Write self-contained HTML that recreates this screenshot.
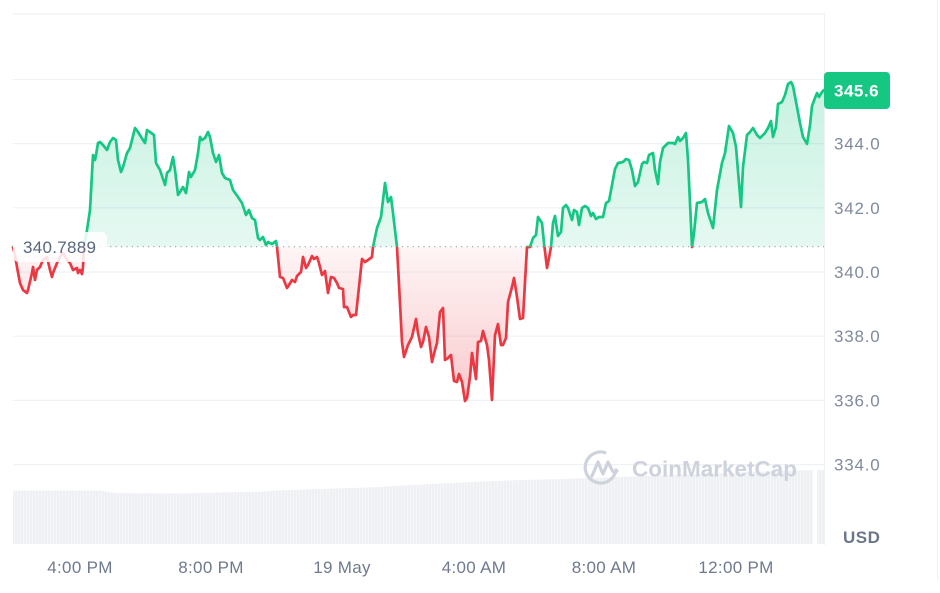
<!DOCTYPE html>
<html>
<head>
<meta charset="utf-8">
<style>
  html,body{margin:0;padding:0;background:#fff;}
  body{width:940px;height:593px;overflow:hidden;}
  svg{display:block;}
  text{font-family:"Liberation Sans",sans-serif;}
</style>
</head>
<body>
<svg width="940" height="593" viewBox="0 0 940 593" xmlns="http://www.w3.org/2000/svg">
  <defs>
    <clipPath id="above"><rect x="0" y="0" width="940" height="246.7"/></clipPath>
    <clipPath id="below"><rect x="0" y="246.7" width="940" height="350"/></clipPath>
    <linearGradient id="gfill" gradientUnits="userSpaceOnUse" x1="0" y1="80" x2="0" y2="247">
      <stop offset="0" stop-color="#16c784" stop-opacity="0.24"/>
      <stop offset="1" stop-color="#16c784" stop-opacity="0.11"/>
    </linearGradient>
    <linearGradient id="rfill" gradientUnits="userSpaceOnUse" x1="0" y1="247" x2="0" y2="400">
      <stop offset="0" stop-color="#ea3943" stop-opacity="0.05"/>
      <stop offset="1" stop-color="#ea3943" stop-opacity="0.27"/>
    </linearGradient>
    <pattern id="stripes" patternUnits="userSpaceOnUse" width="3" height="10">
      <rect x="0" y="0" width="3" height="10" fill="#eef0f4"/>
      <rect x="2" y="0" width="0.8" height="10" fill="#f7f8fa"/>
    </pattern>
    <path id="area" d="M13,246.7 L13,247 15,255 17,267 20,283 23,290 27,293 28,290 32,273 33,267 35,280 37,270 40,267 43,260 47,257 50,270 52,277 53,273 57,263 60,257 63,253 67,260 70,263 73,270 77,268 78,273 80,270 82,274 83,267 84,247 87,230 90,210 92,173 93,155 94,157 95,160 96,155 98,143 100,142 103,145 107,150 110,142 113,138 116,140 118,160 121,172 123,167 127,153 130,148 135,128 138,132 143,140 145,143 147,130 150,132 154,135 156,163 160,170 165,185 167,173 170,170 173,157 175,170 178,195 180,192 183,187 186,193 189,172 191,177 195,170 198,153 200,137 202,140 205,138 208,132 210,137 213,153 216,162 219,155 222,173 225,178 230,180 233,190 238,197 242,203 246,215 249,210 252,218 255,220 258,238 260,240 263,237 266,245 268,242 272,244 276,241 277,247 280,277 283,278 287,288 289,285 292,280 295,282 297,276 301,272 303,257 306,268 308,265 312,256 314,259 317,257 319,263 322,275 325,271 328,293 331,277 334,278 337,283 339,288 343,289 344,307 347,307 351,317 353,315 356,315 362,259 365,262 368,260 372,257 373,247 377,228 381,217 385,183 388,202 391,197 393,213 397,247 400,303 402,342 404,357 408,345 412,337 416,319 418,333 421,347 423,342 426,327 429,337 432,362 435,350 437,343 440,312 443,308 445,360 448,358 451,355 454,381 457,382 459,374 462,382 465,401 467,398 470,377 472,353 476,379 478,342 481,341 483,331 487,345 489,360 492,400 495,335 498,324 501,345 503,345 506,338 508,302 512,287 514,278 517,297 520,319 523,318 525,282 527,247 530,247 533,238 536,235 538,217 542,223 544,243 547,268 549,258 551,247 553,223 555,216 558,236 561,232 563,208 566,205 568,208 572,220 574,210 577,212 579,225 582,208 585,206 588,208 591,216 593,213 596,219 599,217 603,217 606,203 609,201 612,185 615,169 618,163 623,162 626,159 629,160 632,170 635,186 638,182 642,164 644,162 647,163 649,155 653,153 655,170 658,184 660,162 663,148 668,143 673,143 675,144 678,137 680,141 683,138 686,133 688,160 690,203 692,247 694,233 697,203 702,202 705,199 708,213 713,228 717,190 722,163 725,153 729,126 733,133 736,147 741,207 743,167 747,135 750,132 753,128 757,135 760,138 765,133 768,128 771,121 773,137 776,127 778,104 782,102 785,95 788,84 791,82 793,86 797,107 800,123 803,137 807,144 810,125 812,106 815,98 817,93 819,97 822,92 824,90 L824,246.7 Z"/>
    <polyline id="ln" points="13,247 15,255 17,267 20,283 23,290 27,293 28,290 32,273 33,267 35,280 37,270 40,267 43,260 47,257 50,270 52,277 53,273 57,263 60,257 63,253 67,260 70,263 73,270 77,268 78,273 80,270 82,274 83,267 84,247 87,230 90,210 92,173 93,155 94,157 95,160 96,155 98,143 100,142 103,145 107,150 110,142 113,138 116,140 118,160 121,172 123,167 127,153 130,148 135,128 138,132 143,140 145,143 147,130 150,132 154,135 156,163 160,170 165,185 167,173 170,170 173,157 175,170 178,195 180,192 183,187 186,193 189,172 191,177 195,170 198,153 200,137 202,140 205,138 208,132 210,137 213,153 216,162 219,155 222,173 225,178 230,180 233,190 238,197 242,203 246,215 249,210 252,218 255,220 258,238 260,240 263,237 266,245 268,242 272,244 276,241 277,247 280,277 283,278 287,288 289,285 292,280 295,282 297,276 301,272 303,257 306,268 308,265 312,256 314,259 317,257 319,263 322,275 325,271 328,293 331,277 334,278 337,283 339,288 343,289 344,307 347,307 351,317 353,315 356,315 362,259 365,262 368,260 372,257 373,247 377,228 381,217 385,183 388,202 391,197 393,213 397,247 400,303 402,342 404,357 408,345 412,337 416,319 418,333 421,347 423,342 426,327 429,337 432,362 435,350 437,343 440,312 443,308 445,360 448,358 451,355 454,381 457,382 459,374 462,382 465,401 467,398 470,377 472,353 476,379 478,342 481,341 483,331 487,345 489,360 492,400 495,335 498,324 501,345 503,345 506,338 508,302 512,287 514,278 517,297 520,319 523,318 525,282 527,247 530,247 533,238 536,235 538,217 542,223 544,243 547,268 549,258 551,247 553,223 555,216 558,236 561,232 563,208 566,205 568,208 572,220 574,210 577,212 579,225 582,208 585,206 588,208 591,216 593,213 596,219 599,217 603,217 606,203 609,201 612,185 615,169 618,163 623,162 626,159 629,160 632,170 635,186 638,182 642,164 644,162 647,163 649,155 653,153 655,170 658,184 660,162 663,148 668,143 673,143 675,144 678,137 680,141 683,138 686,133 688,160 690,203 692,247 694,233 697,203 702,202 705,199 708,213 713,228 717,190 722,163 725,153 729,126 733,133 736,147 741,207 743,167 747,135 750,132 753,128 757,135 760,138 765,133 768,128 771,121 773,137 776,127 778,104 782,102 785,95 788,84 791,82 793,86 797,107 800,123 803,137 807,144 810,125 812,106 815,98 817,93 819,97 822,92 824,90"/>
  </defs>

  <!-- gridlines -->
  <g stroke="#eff2f5" stroke-width="1.2">
    <line x1="13" y1="14" x2="824" y2="14"/>
    <line x1="13" y1="79.5" x2="824" y2="79.5"/>
    <line x1="13" y1="143.6" x2="824" y2="143.6"/>
    <line x1="13" y1="207.8" x2="824" y2="207.8"/>
    <line x1="13" y1="272" x2="824" y2="272"/>
    <line x1="13" y1="336.2" x2="824" y2="336.2"/>
    <line x1="13" y1="400.4" x2="824" y2="400.4"/>
    <line x1="13" y1="464.6" x2="824" y2="464.6"/>
  </g>
  <line x1="824.5" y1="13" x2="824.5" y2="545" stroke="#eff2f5" stroke-width="1.2"/>
  <line x1="937.5" y1="0" x2="937.5" y2="580" stroke="#eff2f5" stroke-width="1"/>

  <!-- volume -->
  <polygon fill="url(#stripes)" points="13,544 13,490.5 100,490.5 115,493 175,493.5 260,491.7 275,490.5 320,489 380,487 395,486 430,484 470,482 520,480 565,479 625,476.7 700,474 760,471.5 813,470 813,544"/>
  <polygon fill="url(#stripes)" points="817,544 817,470 824,470 824,544"/>

  <!-- watermark -->
  <g>
    <path d="M 616 470 A 15.5 15.5 0 1 1 605 452.6" fill="none" stroke="#cdd2dc" stroke-width="3.2" stroke-linecap="round"/>
    <path d="M 592 476 L 598 462 L 603 474 L 608 462 L 612 470 Q 614 474 617 471" fill="none" stroke="#cdd2dc" stroke-width="3.2" stroke-linejoin="round" stroke-linecap="round"/>
    <text x="632" y="476.5" font-size="22.5" font-weight="bold" fill="#cdd2dc">CoinMarketCap</text>
  </g>

  <!-- area fills -->
  <use href="#area" fill="url(#gfill)" clip-path="url(#above)"/>
  <use href="#area" fill="url(#rfill)" clip-path="url(#below)"/>

  <!-- baseline dotted -->
  <line x1="13" y1="246.7" x2="824" y2="246.7" stroke="#9aa3b3" stroke-width="1.2" stroke-dasharray="1.2 4.2"/>

  <!-- lines -->
  <use href="#ln" fill="none" stroke="#16c784" stroke-width="2.7" stroke-linejoin="round" stroke-linecap="round" clip-path="url(#above)"/>
  <use href="#ln" fill="none" stroke="#ea3943" stroke-width="2.7" stroke-linejoin="round" stroke-linecap="round" clip-path="url(#below)"/>

  <!-- open price label -->
  <rect x="13" y="232" width="94" height="30" rx="6" fill="#ffffff" fill-opacity="0.85"/>
  <text x="23" y="253" font-size="17" fill="#58667e" letter-spacing="0.3">340.7889</text>

  <!-- current price tag -->
  <rect x="824" y="72" width="66" height="37" rx="4" fill="#16c784"/>
  <text x="834" y="96.5" font-size="17" font-weight="bold" fill="#ffffff" letter-spacing="0.5">345.6</text>

  <!-- y-axis labels -->
  <g font-size="17" fill="#808a9d" letter-spacing="0.8">
    <text x="834" y="149.5">344.0</text>
    <text x="834" y="213.8">342.0</text>
    <text x="834" y="278">340.0</text>
    <text x="834" y="342.2">338.0</text>
    <text x="834" y="406.4">336.0</text>
    <text x="834" y="470.6">334.0</text>
  </g>
  <text x="843" y="543" font-size="17" font-weight="bold" fill="#6b768b" letter-spacing="0.5">USD</text>

  <!-- x-axis labels -->
  <g font-size="17" fill="#6f7a8e" text-anchor="middle" letter-spacing="0.3">
    <text x="80" y="573">4:00 PM</text>
    <text x="211" y="573">8:00 PM</text>
    <text x="342" y="573">19 May</text>
    <text x="474" y="573">4:00 AM</text>
    <text x="604" y="573">8:00 AM</text>
    <text x="736" y="573">12:00 PM</text>
  </g>
</svg>
</body>
</html>
